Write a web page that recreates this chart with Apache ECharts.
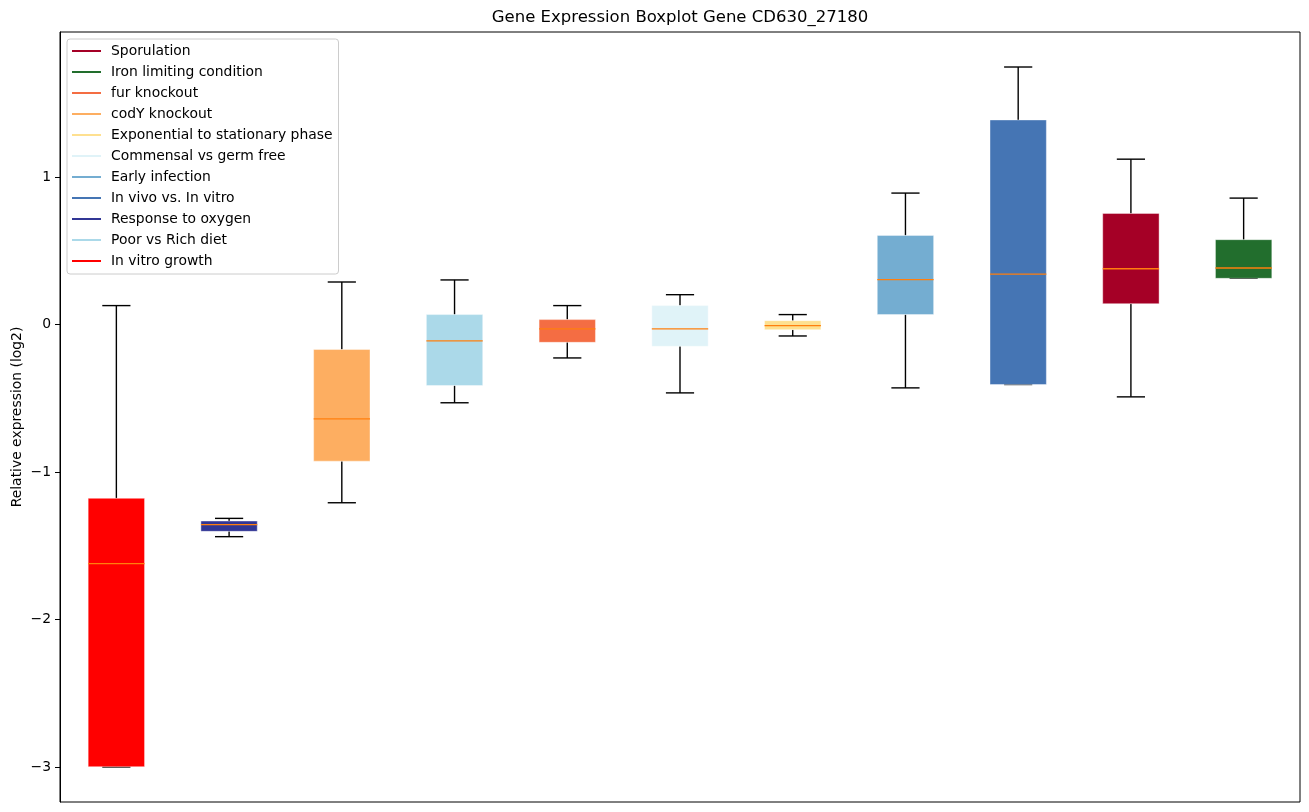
<!DOCTYPE html>
<html>
<head>
<meta charset="utf-8">
<script src="https://cdn.jsdelivr.net/npm/echarts@6/dist/echarts.min.js"></script>
<style>
html,body{margin:0;padding:0;background:#fff;}
#chart{width:1309px;height:812px;}
</style>
</head>
<body>
<div id="chart"></div>
<script>
// Box order (left to right)
const categories = ['In vitro growth','Response to oxygen','codY knockout','Poor vs Rich diet','fur knockout','Commensal vs germ free','Exponential to stationary phase','Early infection','In vivo vs. In vitro','Sporulation','Iron limiting condition'];
const colors = ['#ff0000','#313695','#fdae61','#abd9e9','#f46d43','#e0f3f8','#fee090','#74add1','#4575b4','#a50026','#226e2d'];
const lowWhisker = [-3.0, -1.438, -1.208, -0.53, -0.226, -0.463, -0.077, -0.429, -0.406, -0.49, 0.314];
const q1Values = [-2.998, -1.402, -0.926, -0.413, -0.12, -0.147, -0.034, 0.068, -0.406, 0.142, 0.314];
const medianValues = [-1.621, -1.357, -0.639, -0.11, -0.029, -0.029, -0.007, 0.305, 0.343, 0.379, 0.384];
const q3Values = [-1.178, -1.332, -0.169, 0.068, 0.034, 0.129, 0.027, 0.605, 1.388, 0.754, 0.576];
const highWhisker = [0.129, -1.314, 0.289, 0.303, 0.129, 0.203, 0.068, 0.892, 1.747, 1.122, 0.858];
const legendOrder = ['Sporulation','Iron limiting condition','fur knockout','codY knockout','Exponential to stationary phase','Commensal vs germ free','Early infection','In vivo vs. In vitro','Response to oxygen','Poor vs Rich diet','In vitro growth'];
const yTicks = [-3, -2, -1, 0, 1];

const chart = echarts.init(document.getElementById('chart'));

function renderBox(params, api) {
  const x = api.value(0);
  const lo = api.value(1), q1 = api.value(2), med = api.value(3), q3 = api.value(4), hi = api.value(5);
  const color = api.visual('color');
  const c = (xx, yy) => api.coord([xx, yy]);
  const line = (a, b, stroke, w) => ({
    type: 'line',
    shape: {x1: a[0], y1: a[1], x2: b[0], y2: b[1]},
    style: {stroke: stroke, lineWidth: w}
  });
  const tl = c(x - 0.25, q3), br = c(x + 0.25, q1);
  return {
    type: 'group',
    children: [
      line(c(x, q3), c(x, hi), '#000', 1.4),
      line(c(x, q1), c(x, lo), '#000', 1.4),
      line(c(x - 0.125, hi), c(x + 0.125, hi), '#000', 1.4),
      line(c(x - 0.125, lo), c(x + 0.125, lo), '#000', 1.4),
      {
        type: 'rect',
        shape: {x: tl[0], y: tl[1], width: br[0] - tl[0], height: br[1] - tl[1]},
        style: {fill: color, stroke: 'rgba(255,255,255,0.5)', lineWidth: 0.8}
      },
      line(c(x - 0.25, med), c(x + 0.25, med), '#ff7f0e', 1.3)
    ]
  };
}

const series = categories.map((name, i) => ({
  type: 'custom',
  name: name,
  renderItem: renderBox,
  itemStyle: {color: colors[i]},
  encode: {x: 0, y: [1, 2, 3, 4, 5]},
  data: [[i + 1, lowWhisker[i], q1Values[i], medianValues[i], q3Values[i], highWhisker[i]]],
  z: 2
}));

const option = {
  animation: false,
  backgroundColor: '#fff',
  textStyle: {fontFamily: 'DejaVu Sans'},
  title: {
    text: 'Gene Expression Boxplot Gene CD630_27180',
    left: 680,
    top: 9,
    padding: 0,
    textAlign: 'center',
    textStyle: {fontFamily: 'DejaVu Sans', fontSize: 16.5, fontWeight: 'normal', color: '#000'}
  },
  legend: {
    data: legendOrder,
    orient: 'vertical',
    left: 67,
    top: 39,
    padding: [5, 6, 6, 5],
    itemGap: 7,
    itemWidth: 29,
    itemHeight: 2,
    icon: 'rect',
    backgroundColor: 'rgba(255,255,255,0.85)',
    borderColor: '#cccccc',
    borderWidth: 1,
    borderRadius: 3,
    selectedMode: false,
    textStyle: {fontFamily: 'DejaVu Sans', fontSize: 13.9, color: '#000', lineHeight: 14, padding: [0, 0, 0, 5]}
  },
  grid: {
    left: 60, right: 9, top: 32, bottom: 10,
    outerBoundsMode: 'none',
    containLabel: false,
    show: true, borderColor: '#000', borderWidth: 1, backgroundColor: 'transparent'
  },
  xAxis: {
    type: 'value',
    min: 0.5,
    max: 11.5,
    axisLine: {show: false},
    axisTick: {show: false},
    axisLabel: {show: false},
    splitLine: {show: false}
  },
  yAxis: {
    type: 'value',
    min: -3.2374,
    max: 1.9844,
    name: 'Relative expression (log2)',
    nameLocation: 'middle',
    nameRotate: 90,
    nameGap: 36,
    nameMoveOverlap: false,
    nameTextStyle: {fontFamily: 'DejaVu Sans', fontSize: 13.9, color: '#000'},
    axisLine: {show: true, lineStyle: {color: '#000', width: 1}},
    axisTick: {show: true, customValues: yTicks, length: 5, lineStyle: {color: '#000', width: 1}},
    axisLabel: {
      customValues: yTicks,
      margin: 9,
      fontFamily: 'DejaVu Sans',
      fontSize: 13.9,
      color: '#000',
      formatter: v => String(v).replace('-', '\u2212')
    },
    splitLine: {show: false}
  },
  series: series
};
chart.setOption(option);
</script>
</body>
</html>
